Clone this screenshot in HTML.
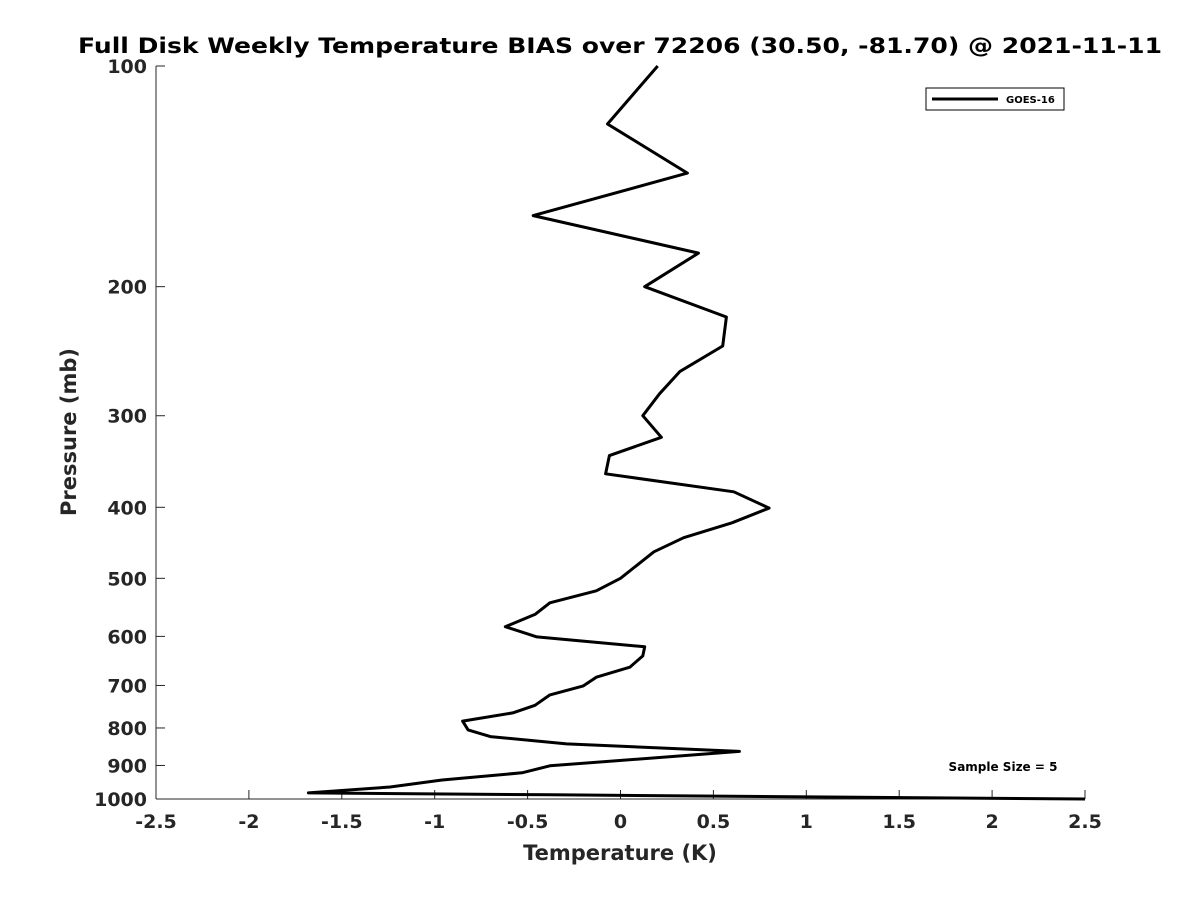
<!DOCTYPE html>
<html><head><meta charset="utf-8"><style>
body{margin:0;background:#fff;}
svg text{font-family:"DejaVu Sans","Liberation Sans",sans-serif;font-weight:bold;fill:#262626;}
</style></head><body>
<svg id="chart" width="1200" height="900" viewBox="0 0 1200 900">
<text x="620" y="53" font-size="21.5" text-anchor="middle" style="fill:#000" textLength="1084" lengthAdjust="spacingAndGlyphs">Full Disk Weekly Temperature BIAS over 72206 (30.50, -81.70) @ 2021-11-11</text>
<g id="axes"></g>
<path id="profile" fill="none" stroke="#000" stroke-width="3" stroke-linejoin="round"></path>
<g>
<rect x="926" y="88" width="138" height="22" fill="#fff" stroke="#000" stroke-width="1"></rect>
<line x1="932" y1="99" x2="998" y2="99" stroke="#000" stroke-width="3"></line>
<text x="1006" y="103" font-size="10" style="fill:#000">GOES-16</text>
</g>
<text x="1003" y="771" font-size="12" text-anchor="middle" style="fill:#000">Sample Size = 5</text>
<text x="620" y="860" font-size="21" text-anchor="middle">Temperature (K)</text>
<text x="0" y="0" font-size="21" text-anchor="middle" transform="translate(76,432) rotate(-90)">Pressure (mb)</text>
</svg>
<script>
const biasValues=[0.2,-0.07,0.36,-0.47,0.42,0.13,0.57,0.55,0.32,0.21,0.12,0.22,-0.06,-0.08,0.61,0.8,0.6,0.34,0.18,0.0,-0.13,-0.38,-0.46,-0.62,-0.45,0.13,0.12,0.05,-0.13,-0.2,-0.38,-0.46,-0.58,-0.85,-0.82,-0.7,-0.29,0.64,-0.38,-0.53,-0.96,-1.24,-1.68,-0.37,2.5];
const pressureLevels=[100,120,140,160,180,200,220,241,261,280,300,321,340,360,381,401,420,440,460,500,520,540,560,582,601,620,638,661,682,701,721,745,763,783,805,822,841,861,901,921,942,963,981,987,1000];
const xTicks=[-2.5,-2,-1.5,-1,-0.5,0,0.5,1,1.5,2,2.5];
const xTickLabels=["-2.5","-2","-1.5","-1","-0.5","0","0.5","1","1.5","2","2.5"];
const yTicks=[100,200,300,400,500,600,700,800,900,1000];
const X0=156,X1=1085,Y0=66,Y1=799;
const xs=v=>X0+(v+2.5)/5*(X1-X0);
const ys=p=>Y0+Math.log10(p/100)*(Y1-Y0);
const NS="http://www.w3.org/2000/svg";
const g=document.getElementById('axes');
function mk(t,a){const e=document.createElementNS(NS,t);for(const k in a)e.setAttribute(k,a[k]);g.appendChild(e);return e;}
const xa=mk('line',{x1:X0,y1:Y1,x2:X1,y2:Y1,stroke:'#262626','stroke-width':1});


const ya=mk('line',{x1:X0,y1:Y0,x2:X0,y2:Y1,stroke:'#262626','stroke-width':1});


xTicks.forEach((v,i)=>{const x=xs(v);
mk('line',{x1:x,y1:Y1,x2:x,y2:Y1-9,stroke:'#262626'});
const t=mk('text',{x:x,y:Y1+29,'font-size':19,'text-anchor':'middle'});t.textContent=xTickLabels[i];

});
yTicks.forEach(p=>{const y=ys(p);
mk('line',{x1:X0,y1:y,x2:X0+9,y2:y,stroke:'#262626'});
const t=mk('text',{x:X0-9,y:y+7,'font-size':19,'text-anchor':'end'});t.textContent=p;

});
document.getElementById('profile').setAttribute('d',biasValues.map((v,i)=>(i?'L':'M')+xs(v).toFixed(1)+','+ys(pressureLevels[i]).toFixed(1)).join(' '));
</script>
</body></html>
